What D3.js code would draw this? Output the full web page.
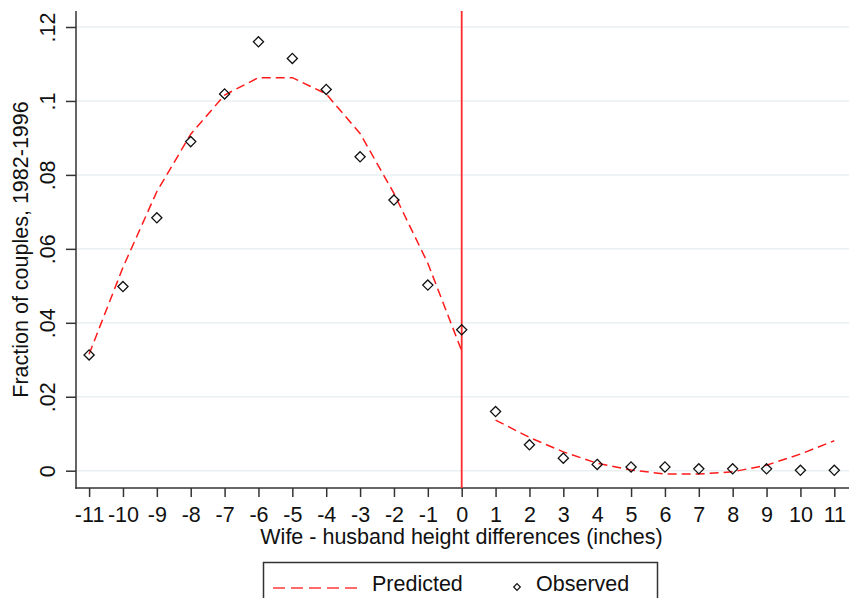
<!DOCTYPE html>
<html>
<head>
<meta charset="utf-8">
<script src="https://cdn.jsdelivr.net/npm/d3@7"></script>
<style>
  html, body { margin: 0; padding: 0; background: #fff; }
  svg { display: block; font-family: "Liberation Sans", Arial, sans-serif; }
</style>
</head>
<body>
<svg id="chart" width="849" height="598"></svg>
<script>
// Height differences (wife minus husband, inches)
const heightDiff = [-11, -10, -9, -8, -7, -6, -5, -4, -3, -2, -1, 0, 1, 2, 3, 4, 5, 6, 7, 8, 9, 10, 11];

// Observed fraction of couples at each difference
const observed = [0.0313, 0.0498, 0.0684, 0.0890, 0.1019, 0.1160, 0.1115, 0.1031, 0.0849, 0.0732, 0.0502, 0.0381,
                  0.0160, 0.0070, 0.0034, 0.0017, 0.0010, 0.0010, 0.0005, 0.0005, 0.0005, 0.0001, 0.0001];

// Predicted fraction, fitted separately on each side of zero
const predictedLeftX = [-11, -10, -9, -8, -7, -6, -5, -4, -3, -2, -1, 0];
const predictedLeft = [0.0315, 0.0550, 0.0755, 0.0910, 0.1016, 0.1063, 0.1063, 0.1019, 0.0912, 0.0750, 0.0561, 0.0324];
const predictedRightX = [1, 2, 3, 4, 5, 6, 7, 8, 9, 10, 11];
const predictedRight = [0.0137, 0.0090, 0.0051, 0.0020, 0.0002, -0.0009, -0.0009, -0.0003, 0.0015, 0.0045, 0.0081];

const yTicks = [0, 0.02, 0.04, 0.06, 0.08, 0.10, 0.12];
const yTickLabels = ["0", ".02", ".04", ".06", ".08", ".1", ".12"];

const svg = d3.select("#chart");
const frame = { left: 76, right: 849, top: 11, bottom: 488 };

const x = d3.scaleLinear().domain([-11, 11]).range([89.1, 834.3]);
const y = d3.scaleLinear().domain([0, 0.12]).range([470.7, 27]);

const fontSize = 21.5;
const textColor = "#111";
const axisColor = "#333";

// Horizontal gridlines
svg.append("g")
  .selectAll("line")
  .data(yTicks)
  .join("line")
  .attr("x1", frame.left).attr("x2", frame.right)
  .attr("y1", d => y(d)).attr("y2", d => y(d))
  .attr("stroke", "#e8f0f2")
  .attr("stroke-width", 1.5);

// Y axis ticks and rotated labels
const yAxis = svg.append("g")
  .attr("transform", `translate(${frame.left},0)`)
  .call(d3.axisLeft(y).tickValues(yTicks).tickSize(10).tickFormat((d, i) => yTickLabels[i]));
yAxis.select(".domain").remove();
yAxis.selectAll(".tick line").attr("stroke", axisColor).attr("stroke-width", 1.5);
yAxis.selectAll(".tick text")
  .attr("x", null).attr("dy", null)
  .attr("transform", "translate(-21,0) rotate(-90)")
  .attr("text-anchor", "middle")
  .attr("fill", textColor)
  .style("font-size", fontSize + "px");

// X axis ticks and labels (plain hyphen for negatives)
const xAxis = svg.append("g")
  .attr("transform", `translate(0,${frame.bottom})`)
  .call(d3.axisBottom(x).tickValues(heightDiff).tickSize(9).tickFormat(d => String(d)));
xAxis.select(".domain").remove();
xAxis.selectAll(".tick line").attr("stroke", axisColor).attr("stroke-width", 1.5);
xAxis.selectAll(".tick text")
  .attr("y", 34).attr("dy", null)
  .attr("fill", textColor)
  .style("font-size", fontSize + "px");

// Axis lines
svg.append("line")
  .attr("x1", frame.left).attr("x2", frame.left)
  .attr("y1", frame.top).attr("y2", frame.bottom + 0.75)
  .attr("stroke", axisColor).attr("stroke-width", 1.5);
svg.append("line")
  .attr("x1", frame.left - 0.75).attr("x2", frame.right)
  .attr("y1", frame.bottom).attr("y2", frame.bottom)
  .attr("stroke", axisColor).attr("stroke-width", 1.5);

// Vertical reference line at zero difference
svg.append("line")
  .attr("x1", x(0)).attr("x2", x(0))
  .attr("y1", frame.top).attr("y2", frame.bottom)
  .attr("stroke", "#ff2a2a")
  .attr("stroke-width", 1.8);

// Predicted curves
const line = d3.line().x(d => x(d[0])).y(d => y(d[1]));
[[predictedLeftX, predictedLeft], [predictedRightX, predictedRight]].forEach(([xs, ys]) => {
  svg.append("path")
    .datum(xs.map((v, i) => [v, ys[i]]))
    .attr("d", line)
    .attr("fill", "none")
    .attr("stroke", "#ff1a1a")
    .attr("stroke-width", 1.5)
    .attr("stroke-dasharray", "9,5");
});

// Observed points as hollow diamonds
const diamond = d3.symbol().type(d3.symbolDiamond2).size(66);
svg.append("g")
  .selectAll("path")
  .data(heightDiff.map((v, i) => [v, observed[i]]))
  .join("path")
  .attr("d", diamond)
  .attr("transform", d => `translate(${x(d[0])},${y(d[1])})`)
  .attr("fill", "none")
  .attr("stroke", "#111")
  .attr("stroke-width", 1.3);

// Axis titles
svg.append("text")
  .attr("x", (frame.left + frame.right) / 2 - 1)
  .attr("y", 544)
  .attr("text-anchor", "middle")
  .attr("fill", textColor)
  .style("font-size", fontSize + "px")
  .text("Wife - husband height differences (inches)");

svg.append("text")
  .attr("transform", `translate(28,${(frame.top + frame.bottom) / 2}) rotate(-90)`)
  .attr("text-anchor", "middle")
  .attr("fill", textColor)
  .style("font-size", fontSize + "px")
  .text("Fraction of couples, 1982-1996");

// Legend
const legend = svg.append("g");
legend.append("rect")
  .attr("x", 263.5).attr("y", 562.5)
  .attr("width", 394).attr("height", 60)
  .attr("fill", "#fff")
  .attr("stroke", axisColor)
  .attr("stroke-width", 1.5);
legend.append("line")
  .attr("x1", 273).attr("x2", 358)
  .attr("y1", 588).attr("y2", 588)
  .attr("stroke", "#ff3b3b")
  .attr("stroke-width", 1.5)
  .attr("stroke-dasharray", "12,6");
legend.append("text")
  .attr("x", 372).attr("y", 591)
  .attr("fill", textColor)
  .style("font-size", fontSize + "px")
  .text("Predicted");
legend.append("path")
  .attr("d", d3.symbol().type(d3.symbolDiamond2).size(28))
  .attr("transform", "translate(517,587)")
  .attr("fill", "none")
  .attr("stroke", "#111")
  .attr("stroke-width", 1.2);
legend.append("text")
  .attr("x", 536).attr("y", 591)
  .attr("fill", textColor)
  .style("font-size", fontSize + "px")
  .text("Observed");
</script>
</body>
</html>
